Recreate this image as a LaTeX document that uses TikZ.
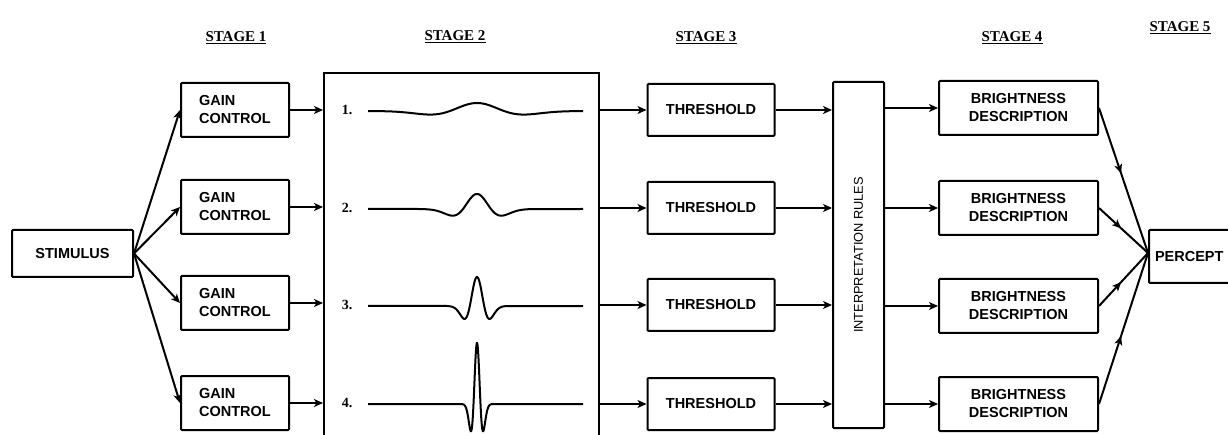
\documentclass[tikz,border=0pt]{standalone}
\usepackage{fontspec}
\setmainfont{Liberation Serif}
\setsansfont{Liberation Sans}
\usetikzlibrary{arrows.meta,decorations.markings}
\begin{document}
\begin{tikzpicture}[x=1pt,y=-1pt,
  box/.style={draw, line width=2pt, rounded corners=1pt, inner sep=0pt,
    font=\sffamily\bfseries\fontsize{14.5}{18}\selectfont, align=center},
  frame/.style={draw, line width=2pt, inner sep=0pt},
  conn/.style={line width=2pt, -{Stealth[length=9pt,width=8pt,inset=2.5pt]}},
  midconn/.style={line width=2pt, postaction={decorate},
    decoration={markings, mark=at position 0.45 with {\arrow{Stealth[length=9pt,width=8pt,inset=2.5pt]}}}},
  stagelbl/.style={font=\bfseries\fontsize{15}{17}\selectfont},
  wave/.style={line width=2pt},
  num/.style={font=\bfseries\fontsize{14}{16}\selectfont}
]
\clip (0,0) rectangle (1228,435);

% stage labels
\node[stagelbl] (st1) at (236,38) {\underline{STAGE 1}};
\node[stagelbl] (st2) at (455,37) {\underline{STAGE 2}};
\node[stagelbl] (st3) at (706,38) {\underline{STAGE 3}};
\node[stagelbl] (st4) at (1012,38) {\underline{STAGE 4}};
\node[stagelbl] (st5) at (1180,28) {\underline{STAGE 5}};

% stimulus
\node[box, minimum width=121pt, minimum height=47pt] (stim) at (72.5,253.5) {STIMULUS};

% gain control
\foreach \i/\y in {1/110,2/207,3/303,4/403}{
  \node[box, align=left, minimum width=108pt, minimum height=54pt] (g\i) at (235,\y) {GAIN\\CONTROL};
}

% stage 2 frame (open at the bottom of the picture)
\node[frame, anchor=north west, minimum width=275pt, minimum height=430pt] (s2) at (323,72) {};

% numbers
\node[num] (n1) at (347,110) {1.};
\node[num] (n2) at (347,208) {2.};
\node[num] (n3) at (347,305) {3.};
\node[num] (n4) at (347,403) {4.};

% waveforms
\draw[wave] plot[domain=368:583, samples=160] (\x, {111 - 8*(1-((\x-477)/27)^2)*exp(-0.5*((\x-477)/27)^2)});
\draw[wave] (368,209) -- (418,209)
  plot[domain=418:536, samples=160] (\x, {209 - 15*(1-((\x-477)/14)^2)*exp(-0.5*((\x-477)/14)^2)})
  -- (583,209);
\draw[wave] (368,306) -- (447,306)
  plot[domain=447:507, samples=160] (\x, {306 - 29*(1-((\x-477)/7.2)^2)*exp(-0.5*((\x-477)/7.2)^2)})
  -- (583,306);
\draw[wave] (368,404) -- (462,404)
  plot[domain=462:492, samples=200] (\x, {404 - 61*(1-((\x-477)/3.5)^2)*exp(-0.5*((\x-477)/3.5)^2)})
  -- (583,404);

% threshold
\foreach \i/\y in {1/110,2/208,3/305,4/404}{
  \node[box, minimum width=127pt, minimum height=52pt] (t\i) at (711,\y) {THRESHOLD};
}

% interpretation rules
\node[frame, rounded corners=1pt, minimum width=51pt, minimum height=346pt] (ir) at (858.5,255) {};
\node[rotate=90, font=\sffamily\fontsize{12.8}{15}\selectfont] (irt) at (ir.center) {INTERPRETATION RULES};

% brightness description
\foreach \i/\y in {1/108,2/208,3/306,4/404}{
  \node[box, minimum width=159pt, minimum height=54pt] (b\i) at (1018.5,\y) {BRIGHTNESS\\DESCRIPTION};
}

% percept
\node[box, anchor=west, inner xsep=6pt, text width=74pt, align=left, minimum height=53pt] (pc) at (1148,256.5) {PERCEPT};
\coordinate (cv) at (1148,253);

% connectors
\foreach \i in {1,2,3,4}{
  \draw[conn] (stim.east) -- (g\i.west);
  \draw[conn] (g\i.east) -- (g\i.east -| s2.west);
  \draw[conn] (s2.east |- t\i.west) -- (t\i.west);
  \draw[conn] (t\i.east) -- (t\i.east -| ir.west);
  \draw[conn] (b\i.west -| ir.east) -- (b\i.west);
  \draw[midconn] (b\i.east) -- (cv);
}
\end{tikzpicture}
\end{document}
